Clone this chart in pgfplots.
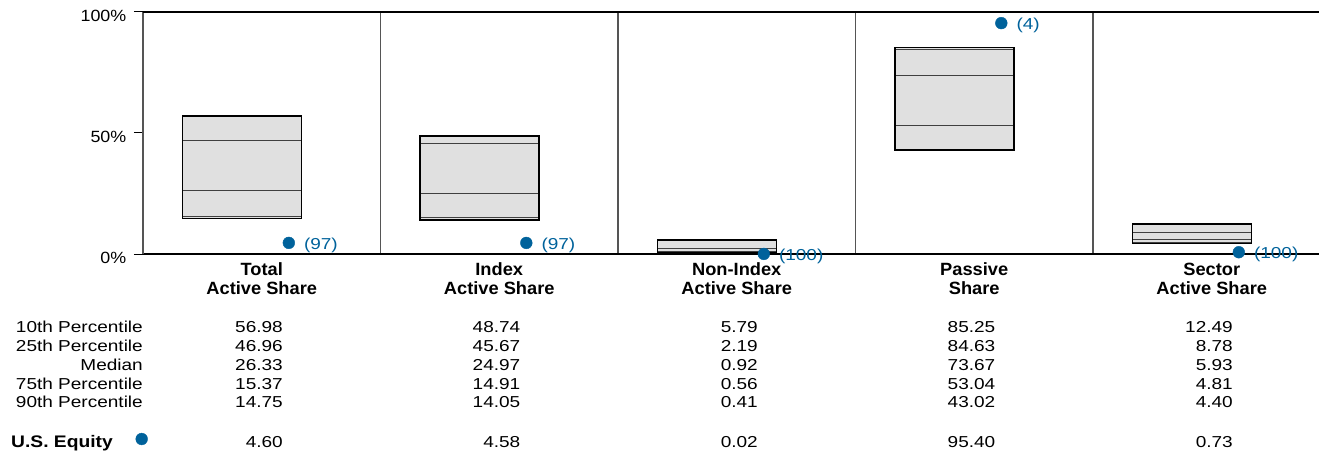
\documentclass[border=0pt]{standalone}
\usepackage{pgfplots}
\usepackage{pgfplotstable}
\pgfplotsset{compat=1.18}
\usepackage{fontspec}
\setmainfont{Liberation Sans}[FakeStretch=1.2]
\newfontfamily\labfont{Liberation Sans}[FakeStretch=1.03]
\newfontfamily\usfont{Liberation Sans}[FakeStretch=1.15]
\newfontfamily\tickfont{Liberation Sans}[FakeStretch=1.1]
\definecolor{boxfill}{HTML}{E0E0E0}
\definecolor{inner}{HTML}{404040}
\definecolor{sep}{HTML}{555555}
\definecolor{dotblue}{HTML}{00629B}
\newcommand{\tf}{\fontsize{15.9}{19}\selectfont}
\newcommand{\lf}{\labfont\bfseries\fontsize{17.8}{19}\selectfont}

\pgfplotstableread{
x p10 p25 med p75 p90 us lab
0 56.98 46.96 26.33 15.37 14.75 4.60 (97)
1 48.74 45.67 24.97 14.91 14.05 4.58 (97)
2 5.79 2.19 0.92 0.56 0.41 0.02 (100)
3 85.25 84.63 73.67 53.04 43.02 95.40 (4)
4 12.49 8.78 5.93 4.81 4.40 0.73 (100)
}\data

% L R p90 p75 med p25 p10
\newcommand{\abox}[7]{%
 \addplot[fill=boxfill, draw=none] coordinates {(#1,#3)(#2,#3)(#2,#7)(#1,#7)} -- cycle;
 \addplot[inner, line width=1.1bp] coordinates {(#1,#4)(#2,#4)};
 \addplot[inner, line width=1.1bp] coordinates {(#1,#5)(#2,#5)};
 \addplot[inner, line width=1.1bp] coordinates {(#1,#6)(#2,#6)};
 \addplot[black, line width=1.5bp] coordinates {(#1,#3)(#2,#3)(#2,#7)(#1,#7)} -- cycle;
}
\newcommand{\rowvals}[2]{%
 \addplot[draw=none, mark=none, nodes near coords, point meta=explicit symbolic,
   every node near coord/.append style={anchor=base east, inner sep=0pt, font=\tf, text=black}]
   table[x expr=\thisrow{x}+0.5895, y expr=#2, meta=#1] {\data};
}

\begin{document}
\begin{tikzpicture}
\path[use as bounding box] (-143bp,-197bp) rectangle (1176bp,254bp);
\begin{axis}[
  at={(0,0)}, anchor=south west,
  scale only axis, width=1176bp, height=242bp,
  xmin=0, xmax=4.9516, ymin=0, ymax=100,
  clip=false,
  axis x line*=bottom, axis y line*=left,
  x axis line style={black, line width=1.3bp},
  y axis line style={sep, line width=1.3bp},
  xtick={1,2,3,4}, xticklabels={}, xmajorgrids,
  major x tick style={draw=none},
  grid style={sep, line width=1.2bp},
  ytick={0,50,100}, yticklabels={0\%,50\%,100\%},
  tick align=outside, major tick length=9bp,
  major y tick style={black, line width=1bp},
  yticklabel style={font=\tickfont\fontsize{16.3}{19}\selectfont, inner sep=0pt, anchor=east, xshift=-7.5bp, yshift=-4bp},
]
\addplot[black, line width=1.3bp] coordinates {(0,100)(4.9516,100)};

\abox{0.167}{0.667}{14.75}{15.37}{26.33}{46.96}{56.98}
\abox{1.167}{1.667}{14.05}{14.91}{24.97}{45.67}{48.74}
\abox{2.167}{2.667}{0.41}{0.56}{0.92}{2.19}{5.79}
\abox{3.167}{3.667}{43.02}{53.04}{73.67}{84.63}{85.25}
\abox{4.167}{4.667}{4.40}{4.81}{5.93}{8.78}{12.49}

\addplot[only marks, mark=*, mark size=5.9bp, color=dotblue,
  nodes near coords, point meta=explicit symbolic,
  every node near coord/.append style={anchor=base west, inner sep=0pt, xshift=15bp, yshift=-6.7bp, font=\tf, text=dotblue}]
  table[x expr=\thisrow{x}+0.614, y=us, meta=lab] {\data};

\rowvals{p10}{-32.36}
\rowvals{p25}{-40.17}
\rowvals{med}{-47.98}
\rowvals{p75}{-55.79}
\rowvals{p90}{-63.6}
\rowvals{us}{-80.04}

\addplot[only marks, mark=*, mark size=5.9bp, color=dotblue] coordinates {(-0.0055,-76.45)};

\node[anchor=base east, inner sep=0pt, font=\tf] at (axis cs:0,-32.36) {10th Percentile};
\node[anchor=base east, inner sep=0pt, font=\tf] at (axis cs:0,-40.17) {25th Percentile};
\node[anchor=base east, inner sep=0pt, font=\tf] at (axis cs:0,-47.98) {Median};
\node[anchor=base east, inner sep=0pt, font=\tf] at (axis cs:0,-55.79) {75th Percentile};
\node[anchor=base east, inner sep=0pt, font=\tf] at (axis cs:0,-63.6) {90th Percentile};
\node[anchor=base west, inner sep=0pt, font=\usfont\bfseries\fontsize{16.8}{19}\selectfont] at (axis cs:-0.5558,-80.04) {U.S. Equity};

\node[anchor=base, inner sep=0pt, font=\lf] at (axis cs:0.5,-9.09) {Total};
\node[anchor=base, inner sep=0pt, font=\lf] at (axis cs:0.5,-16.82) {Active Share};
\node[anchor=base, inner sep=0pt, font=\lf] at (axis cs:1.5,-9.09) {Index};
\node[anchor=base, inner sep=0pt, font=\lf] at (axis cs:1.5,-16.82) {Active Share};
\node[anchor=base, inner sep=0pt, font=\lf] at (axis cs:2.5,-9.09) {Non-Index};
\node[anchor=base, inner sep=0pt, font=\lf] at (axis cs:2.5,-16.82) {Active Share};
\node[anchor=base, inner sep=0pt, font=\lf] at (axis cs:3.5,-9.09) {Passive};
\node[anchor=base, inner sep=0pt, font=\lf] at (axis cs:3.5,-16.82) {Share};
\node[anchor=base, inner sep=0pt, font=\lf] at (axis cs:4.5,-9.09) {Sector};
\node[anchor=base, inner sep=0pt, font=\lf] at (axis cs:4.5,-16.82) {Active Share};
\end{axis}
\end{tikzpicture}
\end{document}
